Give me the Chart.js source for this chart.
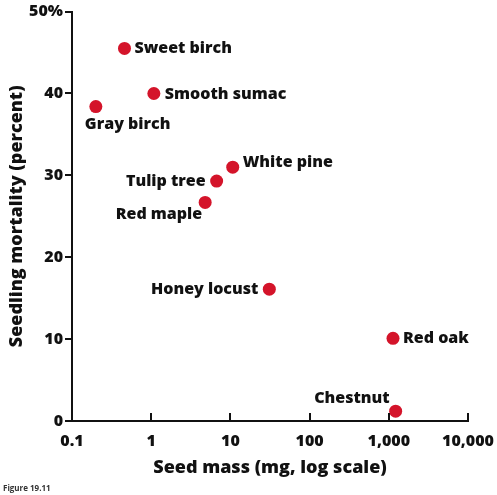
<!DOCTYPE html>
<html>
<head>
<meta charset="utf-8">
<script src="https://cdn.jsdelivr.net/npm/chart.js@4.4.0/dist/chart.umd.min.js"></script>
<style>
  html, body { margin: 0; padding: 0; background: #ffffff; }
  #wrap { position: relative; width: 497px; height: 495px; }
</style>
</head>
<body>
<div id="wrap"><canvas id="c" width="497" height="495"></canvas></div>
<script>
// ---- data ----
const species = ['Sweet birch', 'Smooth sumac', 'Gray birch', 'White pine', 'Tulip tree', 'Red maple', 'Honey locust', 'Red oak', 'Chestnut'];
const seedMass = [0.46, 1.08, 0.2, 10.7, 6.7, 4.8, 31, 1130, 1220];
const mortality = [45.5, 40.0, 38.4, 31.0, 29.3, 26.7, 16.1, 10.1, 1.2];
const xTickValues = [0.1, 1, 10, 100, 1000, 10000];
const xTickLabels = ['0.1', '1', '10', '100', '1,000', '10,000'];
const yTickValues = [0, 10, 20, 30, 40, 50];
const yTickLabels = ['0', '10', '20', '30', '40', '50%'];

const FONT = '"Open Sans", "DejaVu Sans", sans-serif';
const RED = '#d4142a';

// label placement relative to each point: [dx, dy, align]
const labelPlace = {
  'Sweet birch':  [10, 0, 'left'],
  'Smooth sumac': [11, 1, 'left'],
  'Gray birch':   [-11, 18, 'left'],
  'White pine':   [10, -5, 'left'],
  'Tulip tree':   [-11, 0, 'right'],
  'Red maple':    [-3, 12, 'right'],
  'Honey locust': [-11, 0, 'right'],
  'Red oak':      [10, 0, 'left'],
  'Chestnut':     [-6, -13, 'right']
};

const extras = {
  id: 'extras',
  afterDatasetsDraw(chart) {
    const ctx = chart.ctx;
    const xs = chart.scales.x;
    const area = chart.chartArea;
    ctx.save();
    // inward x tick marks
    ctx.strokeStyle = '#111';
    ctx.lineWidth = 2;
    xTickValues.forEach(v => {
      const px = Math.round(xs.getPixelForValue(v));
      ctx.beginPath();
      ctx.moveTo(px, area.bottom);
      ctx.lineTo(px, area.bottom - 8);
      ctx.stroke();
    });
    // point labels
    const meta = chart.getDatasetMeta(0);
    ctx.fillStyle = '#111';
    ctx.font = '800 16px ' + FONT;
    ctx.textBaseline = 'middle';
    meta.data.forEach((el, i) => {
      const p = labelPlace[species[i]];
      ctx.textAlign = p[2];
      ctx.fillText(species[i], el.x + p[0], el.y + p[1]);
    });
    // figure caption
    ctx.fillStyle = '#333';
    ctx.font = 'bold 8px ' + FONT;
    ctx.textAlign = 'left';
    ctx.fillText('Figure 19.11', 3, 489);
    ctx.restore();
  }
};

new Chart(document.getElementById('c'), {
  type: 'scatter',
  data: {
    datasets: [{
      label: 'Seedling mortality',
      data: species.map((s, i) => ({ x: seedMass[i], y: mortality[i] })),
      backgroundColor: RED,
      borderColor: RED,
      pointRadius: 6.5,
      pointHoverRadius: 6.5,
      borderWidth: 0
    }]
  },
  options: {
    responsive: false,
    animation: false,
    devicePixelRatio: 1,
    layout: { padding: { top: 10, right: 29, bottom: 0, left: 0 } },
    plugins: { legend: { display: false }, tooltip: { enabled: false } },
    scales: {
      x: {
        type: 'logarithmic',
        min: 0.1,
        max: 10000,
        afterBuildTicks(scale) { scale.ticks = xTickValues.map(v => ({ value: v })); },
        afterFit(scale) { scale.height = 74; },
        ticks: {
          autoSkip: false,
          maxRotation: 0,
          padding: 1,
          color: '#111',
          font: { family: FONT, weight: '800', size: 16 },
          callback: (v) => xTickLabels[xTickValues.indexOf(v)] ?? ''
        },
        grid: { display: true, drawOnChartArea: false, drawTicks: true, tickLength: 10, color: 'rgba(0,0,0,0)' },
        border: { display: true, color: '#111', width: 2 },
        title: {
          display: true,
          text: 'Seed mass (mg, log scale)',
          color: '#111',
          font: { family: FONT, weight: '800', size: 18 },
          padding: { top: 0, bottom: 16 }
        }
      },
      y: {
        type: 'linear',
        min: 0,
        max: 50,
        afterBuildTicks(scale) { scale.ticks = yTickValues.map(v => ({ value: v })); },
        afterFit(scale) { scale.width = 72; },
        ticks: {
          padding: 2,
          color: '#111',
          font: { family: FONT, weight: '800', size: 16 },
          callback: (v) => yTickLabels[yTickValues.indexOf(v)] ?? ''
        },
        grid: { display: true, drawOnChartArea: false, drawTicks: true, tickLength: 7, color: '#111', lineWidth: 2 },
        border: { display: true, color: '#111', width: 2 },
        title: {
          display: true,
          text: 'Seedling mortality (percent)',
          color: '#111',
          font: { family: FONT, weight: '800', size: 18 },
          padding: { top: 6, bottom: 0 }
        }
      }
    }
  },
  plugins: [extras]
});
</script>
</body>
</html>
